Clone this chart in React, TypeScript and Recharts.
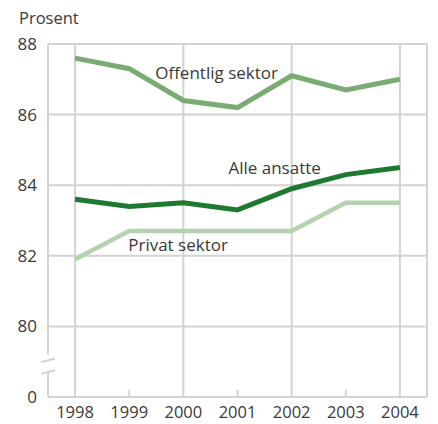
import React from 'react';
import { LineChart, Line, XAxis, YAxis, CartesianGrid, ReferenceLine } from 'recharts';

const years = [1998, 1999, 2000, 2001, 2002, 2003, 2004];
const offentlig = [87.6, 87.3, 86.4, 86.2, 87.1, 86.7, 87.0];
const alleAnsatte = [83.6, 83.4, 83.5, 83.3, 83.9, 84.3, 84.5];
const privat = [81.9, 82.7, 82.7, 82.7, 82.7, 83.5, 83.5];

// 78 stands in for the broken axis and is shown as "0"
const yTicks = [78, 80, 82, 84, 86, 88];
const gridYears = [1998, 2000, 2002, 2004];
const minorYears = [1999, 2001, 2003];

const data = years.map((year, i) => ({
    year,
    offentlig: offentlig[i],
    alle: alleAnsatte[i],
    privat: privat[i]
}));

const GRID = '#d3d3d3';
const TEXT = '#3a3a3a';
const FONT = '"Open Sans", sans-serif';

const seriesLabel = (text: string, index: number, dx: number, dy: number, anchor: 'start' | 'middle' = 'start') =>
    (props: any) => {
        if (props.index !== index) return null;
        return (
            <text x={props.x + dx} y={props.y + dy} textAnchor={anchor} fill={TEXT} fontSize={17} fontFamily={FONT}>
                {text}
            </text>
        );
    };

export default function App() {
    return (
        <div style={{ position: 'absolute', left: 0, top: 0, width: 438, height: 424, background: '#fff' }}>
            <div style={{ position: 'absolute', left: 19, top: 6, fontFamily: FONT, fontSize: 16.5, color: TEXT }}>Prosent</div>
            <LineChart width={438} height={424} data={data} margin={{ top: 44, right: 11, left: 8, bottom: 3 }}>
                <CartesianGrid vertical={false} stroke={GRID} strokeWidth={2} />
                <XAxis
                    dataKey="year"
                    type="number"
                    domain={[1997.5, 2004.5]}
                    ticks={years}
                    interval={0}
                    axisLine={false}
                    tickLine={false}
                    height={24}
                    tickMargin={3}
                    tick={{ fill: TEXT, fontSize: 16.5, fontFamily: FONT }}
                />
                <YAxis
                    type="number"
                    domain={[78, 88]}
                    ticks={yTicks}
                    interval={0}
                    axisLine={false}
                    tickLine={false}
                    width={40}
                    tickMargin={5}
                    tickFormatter={(v) => (v === 78 ? '0' : String(v))}
                    tick={{ fill: TEXT, fontSize: 17, fontFamily: FONT }}
                />
                {gridYears.map((y) => (
                    <ReferenceLine key={y} x={y} stroke={GRID} strokeWidth={2} />
                ))}
                <ReferenceLine x={2004.5} stroke={GRID} strokeWidth={2} />
                {minorYears.map((y) => (
                    <ReferenceLine key={y} segment={[{ x: y, y: 78 }, { x: y, y: 78.2 }]} stroke={GRID} strokeWidth={2} />
                ))}
                {/* left axis with break */}
                <ReferenceLine segment={[{ x: 1997.5, y: 79.2 }, { x: 1997.5, y: 88 }]} stroke={GRID} strokeWidth={2} ifOverflow="visible" />
                <ReferenceLine segment={[{ x: 1997.5, y: 78 }, { x: 1997.5, y: 78.72 }]} stroke={GRID} strokeWidth={2} ifOverflow="visible" />
                <ReferenceLine segment={[{ x: 1997.38, y: 78.99 }, { x: 1997.63, y: 79.09 }]} stroke={GRID} strokeWidth={2} ifOverflow="visible" />
                <ReferenceLine segment={[{ x: 1997.38, y: 78.66 }, { x: 1997.63, y: 78.76 }]} stroke={GRID} strokeWidth={2} ifOverflow="visible" />

                <Line
                    dataKey="offentlig"
                    stroke="#7aab72"
                    strokeWidth={5}
                    dot={false}
                    isAnimationActive={false}
                    label={seriesLabel('Offentlig sektor', 1, 26, 10)}
                />
                <Line
                    dataKey="privat"
                    stroke="#b4d2ad"
                    strokeWidth={4.5}
                    dot={false}
                    isAnimationActive={false}
                    label={seriesLabel('Privat sektor', 1, -1, 20)}
                />
                <Line
                    dataKey="alle"
                    stroke="#1e7a2e"
                    strokeWidth={5}
                    dot={false}
                    isAnimationActive={false}
                    label={seriesLabel('Alle ansatte', 4, -17, -15, 'middle')}
                />
            </LineChart>
        </div>
    );
}
